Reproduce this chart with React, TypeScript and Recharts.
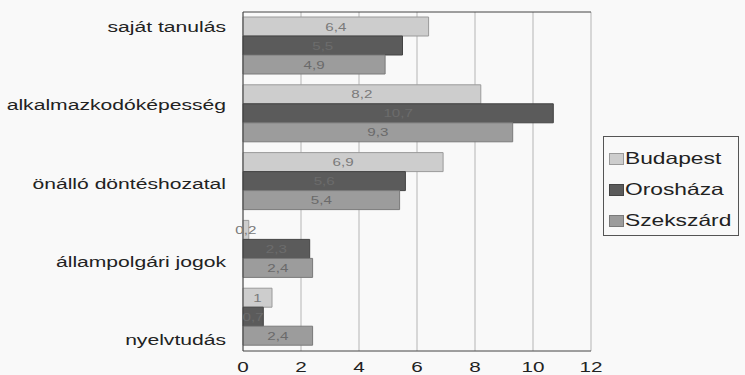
import { BarChart, Bar, XAxis, YAxis, CartesianGrid, Legend, LabelList, ReferenceLine } from "recharts";

const categories = [
  "saját tanulás",
  "alkalmazkodóképesség",
  "önálló döntéshozatal",
  "állampolgári jogok",
  "nyelvtudás",
];
const budapest = [6.4, 8.2, 6.9, 0.2, 1];
const oroshaza = [5.5, 10.7, 5.6, 2.3, 0.7];
const szekszard = [4.9, 9.3, 5.4, 2.4, 2.4];
const xTicks = [0, 2, 4, 6, 8, 10, 12];

const FONT = "Liberation Sans, Arial, sans-serif";
const STRETCH = 1.38; // text is drawn wide

const SERIES = [
  { key: "Budapest", fill: "#cdcdcd", stroke: "#9a9a9a", label: "#7a7a7a" },
  { key: "Orosháza", fill: "#5b5b5b", stroke: "#444444", label: "#6c6c6c" },
  { key: "Szekszárd", fill: "#9c9c9c", stroke: "#7a7a7a", label: "#6a6a6a" },
];

const data = categories.map((name, i) => ({
  name,
  Budapest: budapest[i],
  Orosháza: oroshaza[i],
  Szekszárd: szekszard[i],
}));

const fmt = (v: any) => String(v).replace(".", ",");

function WideText({ x, y, anchor, size, fill, children }: any) {
  return (
    <g transform={`translate(${x},${y}) scale(${STRETCH},1)`}>
      <text x={0} y={0} textAnchor={anchor} fontSize={size} fill={fill} fontFamily={FONT}>
        {children}
      </text>
    </g>
  );
}

// category labels are spread a little wider than the bar groups
function CategoryTick(props: any) {
  const { x, y, payload, index } = props;
  const shift = (index - 2) * 10.5;
  return (
    <WideText x={x} y={y + shift + 7} anchor="end" size={15.3} fill="#222">
      {payload.value}
    </WideText>
  );
}

function ValueTick(props: any) {
  const { x, y, payload } = props;
  return (
    <WideText x={x} y={y + 13} anchor="middle" size={15} fill="#222">
      {payload.value}
    </WideText>
  );
}

function BarValue(props: any) {
  const { x, y, width, height, value, fill } = props;
  return (
    <WideText x={x + width / 2} y={y + height / 2 + 4} anchor="middle" size={11} fill={fill}>
      {fmt(value)}
    </WideText>
  );
}

function LegendBox() {
  return (
    <div
      style={{
        border: "1px solid #555",
        width: 136,
        height: 100,
        boxSizing: "border-box",
        padding: "6px 0 0 5px",
        fontFamily: FONT,
        fontSize: 16.5,
        color: "#222",
        background: "#f9f9f9",
        overflow: "hidden",
      }}
    >
      {SERIES.map((s) => (
        <div key={s.key} style={{ display: "flex", alignItems: "center", height: 31 }}>
          <span
            style={{
              display: "inline-block",
              width: 13,
              height: 10,
              background: s.fill,
              border: `1px solid ${s.stroke}`,
              marginRight: 1,
              flex: "none",
            }}
          />
          <span style={{ display: "inline-block", transform: `scaleX(${STRETCH})`, transformOrigin: "left center", whiteSpace: "nowrap" }}>
            {s.key}
          </span>
        </div>
      ))}
    </div>
  );
}

export default function App() {
  return (
    <div style={{ position: "absolute", left: 0, top: 0, width: 745, height: 375, background: "#f9f9f9" }}>
      <BarChart
        width={745}
        height={375}
        data={data}
        layout="vertical"
        margin={{ top: 12, right: 154, bottom: 0, left: 0 }}
        barCategoryGap={5}
        barGap={0}
      >
        <CartesianGrid horizontal={false} stroke="#b5b5b5" />
        <XAxis
          type="number"
          domain={[0, 12]}
          ticks={xTicks}
          interval={0}
          height={24}
          axisLine={{ stroke: "#444" }}
          tickLine={false}
          tick={<ValueTick />}
        />
        <YAxis
          type="category"
          dataKey="name"
          width={243}
          interval={0}
          axisLine={{ stroke: "#444" }}
          tickLine={false}
          tickMargin={11}
          tick={<CategoryTick />}
        />
        <ReferenceLine y={categories[0]} position="start" stroke="#444" />
        <Legend
          layout="horizontal"
          verticalAlign="middle"
          align="center"
          content={<LegendBox />}
          wrapperStyle={{ position: "absolute", left: 603, top: 136, width: 136 }}
        />
        {SERIES.map((s) => (
          <Bar
            key={s.key}
            dataKey={s.key}
            fill={s.fill}
            stroke={s.stroke}
            strokeWidth={1}
            isAnimationActive={false}
          >
            <LabelList dataKey={s.key} content={(p: any) => <BarValue {...p} fill={s.label} />} />
          </Bar>
        ))}
      </BarChart>
    </div>
  );
}
